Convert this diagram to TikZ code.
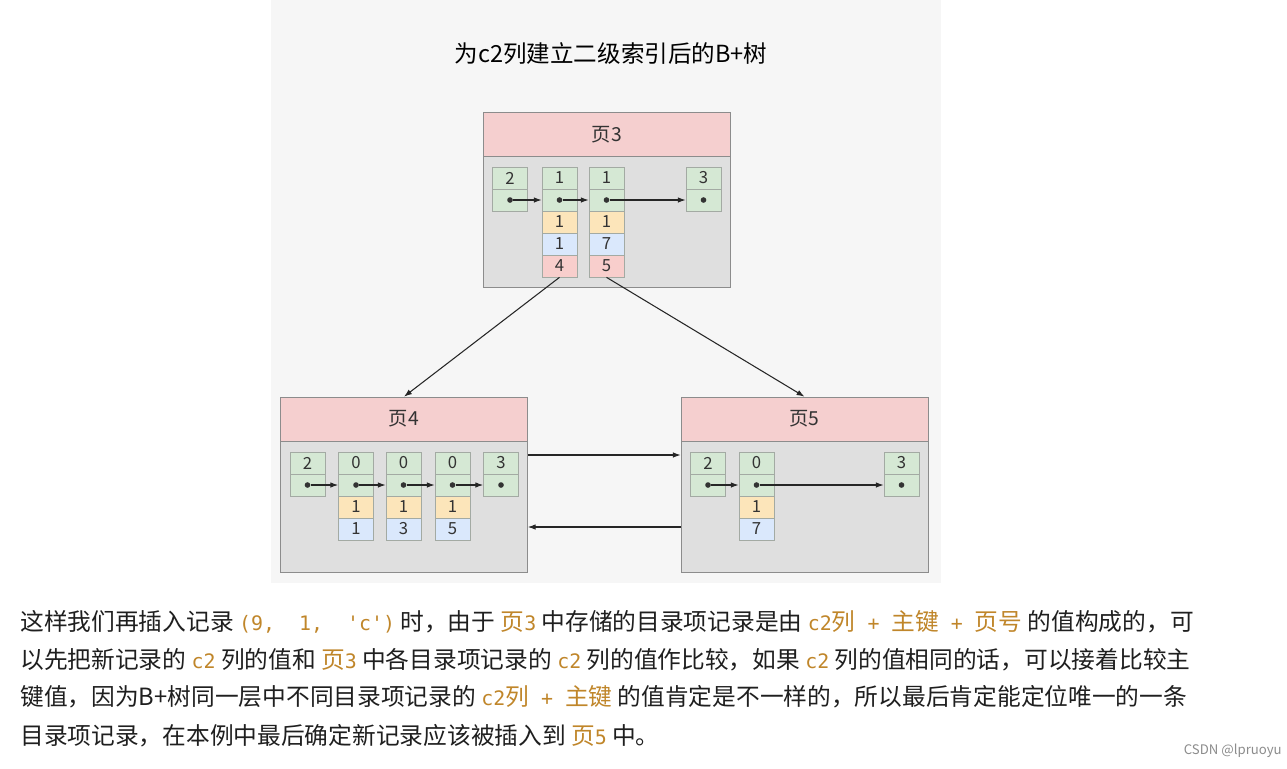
\documentclass[tikz,border=0pt]{standalone}
\usepackage{fontspec}
\setmainfont{Noto Sans CJK SC}
\newfontfamily\cmono{DejaVu Sans Mono}[Scale=0.84]
\usetikzlibrary{arrows.meta,positioning}

\definecolor{diagbg}{HTML}{F6F6F6}
\definecolor{pagebody}{HTML}{DFDFDF}
\definecolor{pagehead}{HTML}{F5CFCF}
\definecolor{pageline}{HTML}{8C8C8C}
\definecolor{cellline}{HTML}{A3AAA3}
\definecolor{cellgreen}{HTML}{D5E8D4}
\definecolor{cellorange}{HTML}{FCE5BA}
\definecolor{cellblue}{HTML}{DAE8FC}
\definecolor{cellred}{HTML}{F8CECC}
\definecolor{codeor}{HTML}{C0862A}
\newcommand{\code}[1]{\textcolor{codeor}{#1}}
\newcommand{\mc}[1]{{\cmono #1}}

\begin{document}
\begin{tikzpicture}[x=0.02cm, y=-0.02cm, >={Latex[length=4.5pt,width=3.2pt]},
  cell/.style={draw=cellline, minimum width=0.7cm, minimum height=0.44cm, inner sep=0pt,
    font=\fontsize{9.5}{10}\selectfont, text=black!80},
  cg/.style={cell, fill=cellgreen},
  co/.style={cell, fill=cellorange},
  cb/.style={cell, fill=cellblue},
  cr/.style={cell, fill=cellred},
  page/.style={draw=pageline, fill=pagebody, minimum width=4.94cm, minimum height=3.5cm},
  head/.style={draw=pageline, fill=pagehead, minimum width=4.94cm, minimum height=0.88cm,
    anchor=north, font=\fontsize{11}{12}\selectfont, text=black!80},
  dot/.style={circle, fill=black!80, inner sep=0pt, minimum size=3.2pt},
  link/.style={->, line width=0.6pt, black!85},
  para/.style={anchor=west, inner sep=0pt, font=\fontsize{13.5}{15}\selectfont, text=black!88}]

  \useasboundingbox[fill=white] (0,0) rectangle (1287,768);
  \fill[diagbg] (271,0) rectangle (941,583);

  \node[font=\fontsize{13.4}{15}\selectfont] (title) at (611,54) {为c2列建立二级索引后的B+树};

  % pages
  \node[page] (p3) at (607,200) {};
  \node[head] (p3h) at (p3.north) {页3};
  \node[page] (p4) at (404,484.5) {};
  \node[head] (p4h) at (p4.north) {页4};
  \node[page] (p5) at (804.5,484.5) {};
  \node[head] (p5h) at (p5.north) {页5};

  % page 3
  \foreach \c/\x/\v in {a/510/2, b/559.5/1, c/606.5/1, d/703.5/3} {
    \node[cg] (p3\c1) at (\x,178) {\v};
    \node[cg] (p3\c2) at (\x,200) {};
    \node[dot] (p3\c0) at (p3\c2) {};
  }
  \node[co] (p3b3) at (559.5,222) {1};
  \node[cb] (p3b4) at (559.5,244) {1};
  \node[cr] (p3b5) at (559.5,266) {4};
  \node[co] (p3c3) at (606.5,222) {1};
  \node[cb] (p3c4) at (606.5,244) {7};
  \node[cr] (p3c5) at (606.5,266) {5};
  \draw[link] (p3a0) -- (p3b2.west);
  \draw[link] (p3b0) -- (p3c2.west);
  \draw[link] (p3c0) -- (p3d2.west);

  % page 4
  \foreach \c/\x/\v in {a/307.5/2, b/356/0, c/403.5/0, d/452.5/0, e/501/3} {
    \node[cg] (p4\c1) at (\x,463) {\v};
    \node[cg] (p4\c2) at (\x,485) {};
    \node[dot] (p4\c0) at (p4\c2) {};
  }
  \node[co] (p4b3) at (356,507) {1};
  \node[cb] (p4b4) at (356,529) {1};
  \node[co] (p4c3) at (403.5,507) {1};
  \node[cb] (p4c4) at (403.5,529) {3};
  \node[co] (p4d3) at (452.5,507) {1};
  \node[cb] (p4d4) at (452.5,529) {5};
  \draw[link] (p4a0) -- (p4b2.west);
  \draw[link] (p4b0) -- (p4c2.west);
  \draw[link] (p4c0) -- (p4d2.west);
  \draw[link] (p4d0) -- (p4e2.west);

  % page 5
  \foreach \c/\x/\v in {a/708/2, b/756.5/0, c/901.5/3} {
    \node[cg] (p5\c1) at (\x,463) {\v};
    \node[cg] (p5\c2) at (\x,485) {};
    \node[dot] (p5\c0) at (p5\c2) {};
  }
  \node[co] (p5b3) at (756.5,507) {1};
  \node[cb] (p5b4) at (756.5,529) {7};
  \draw[link] (p5a0) -- (p5b2.west);
  \draw[link] (p5b0) -- (p5c2.west);

  % tree and sibling links
  \draw[link] (p3b5.south) -- (p4.north);
  \draw[link] (p3c5.south) -- (p5.north);
  \coordinate (nxt) at (0,455);
  \coordinate (prv) at (0,527);
  \draw[link] (p4.east |- nxt) -- (p5.west |- nxt);
  \draw[link] (p5.west |- prv) -- (p4.east |- prv);

  % text below
  \node[para] (l1) at (20,622) {这样我们再插入记录 \code{\mc{(9,\ \ 1,\ \ \textquotesingle c\textquotesingle)}} 时，由于 \code{页\mc{3}} 中存储的目录项记录是由 \code{\mc{c2}列\mc{\ +\ }主键\mc{\ +\ }页号} 的值构成的，可};
  \node[para] (l2) at (20,660) {以先把新记录的 \code{\mc{c2}} 列的值和 \code{页\mc{3}} 中各目录项记录的 \code{\mc{c2}} 列的值作比较，如果 \code{\mc{c2}} 列的值相同的话，可以接着比较主};
  \node[para] (l3) at (20,697) {键值，因为B+树同一层中不同目录项记录的 \code{\mc{c2}列\mc{\ +\ }主键} 的值肯定是不一样的，所以最后肯定能定位唯一的一条};
  \node[para] (l4) at (20,736) {目录项记录，在本例中最后确定新记录应该被插入到 \code{页\mc{5}} 中。};

  \node[anchor=east, inner sep=0pt, font=\fontsize{7.5}{8}\selectfont, text=black!45] (mark) at (1282,751) {CSDN @lpruoyu};
\end{tikzpicture}
\end{document}
